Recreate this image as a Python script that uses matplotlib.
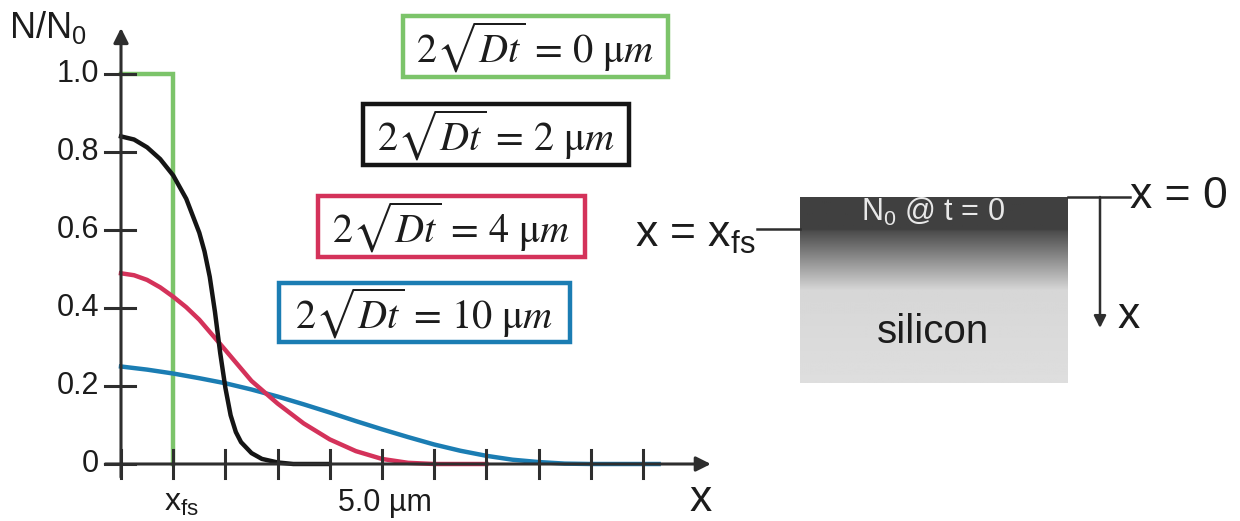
import numpy as np
import matplotlib
matplotlib.use("Agg")
import matplotlib.pyplot as plt
from matplotlib.patches import Rectangle

plt.rcParams['font.family'] = ['Liberation Sans', 'DejaVu Sans']
plt.rcParams['mathtext.fontset'] = 'custom'
plt.rcParams['mathtext.rm'] = 'Liberation Sans'
plt.rcParams['mathtext.it'] = 'Liberation Sans'
plt.rcParams['mathtext.sf'] = 'Liberation Sans'

# --- data (depth in um, N/N0) ---
x_green = [0.0, 1.0, 1.0]
y_green = [1.0, 1.0, 0.0]

x_black = [0.0, 0.25, 0.5, 0.75, 1.0, 1.25, 1.5, 1.6, 1.7, 1.8, 1.9, 2.0,
           2.1, 2.2, 2.3, 2.5, 2.7, 3.0, 3.3, 4.0]
y_black = [0.84, 0.832, 0.812, 0.782, 0.74, 0.68, 0.593, 0.545, 0.48, 0.39,
           0.285, 0.195, 0.125, 0.082, 0.056, 0.028, 0.013, 0.004, 0.0, 0.0]

x_red = [0.0, 0.25, 0.5, 0.75, 1.0, 1.25, 1.5, 2.0, 2.5, 3.0, 3.5, 4.0, 4.5,
         5.0, 5.5, 6.0, 7.0]
y_red = [0.489, 0.484, 0.472, 0.453, 0.429, 0.402, 0.37, 0.292, 0.213, 0.155,
         0.104, 0.063, 0.033, 0.013, 0.003, 0.0, 0.0]

x_blue = [0.0, 0.5, 1.0, 1.5, 2.0, 2.5, 3.0, 3.5, 4.0, 4.5, 5.0, 5.5, 6.0,
          6.5, 7.0, 7.5, 8.0, 8.5, 9.0, 10.3]
y_blue = [0.25, 0.242, 0.232, 0.22, 0.207, 0.191, 0.173, 0.153, 0.132, 0.11,
          0.089, 0.069, 0.05, 0.034, 0.021, 0.011, 0.005, 0.001, 0.0, 0.0]

y_ticks = [0.0, 0.2, 0.4, 0.6, 0.8, 1.0]
y_ticklabels = ['0', '0.2', '0.4', '0.6', '0.8', '1.0']
x_ticks = [0, 1, 2, 3, 4, 5, 6, 7, 8, 9, 10]

legend_labels = ['0', '2', '4', '10']
legend_colors = ['#7cc46a', '#151515', '#d4325a', '#1b7db3']

AX = '#2e2e2e'
TXT = '#1c1c1c'

W, H = 1240, 521
fig = plt.figure(figsize=(W / 100, H / 100), dpi=100)

# main plot axes: whole figure, origin at pixel (121, 464)
x0px, sx = 121.0, 52.2
y0px, sy = 464.0, 390.0
ax = fig.add_axes([0, 0, 1, 1])
ax.set_xlim(-x0px / sx, (W - x0px) / sx)
ax.set_ylim((y0px - H) / sy, y0px / sy)
ax.axis('off')

lw = 3.2
ax.plot(x_green, y_green, color=legend_colors[0], lw=lw, solid_joinstyle='miter', zorder=2)
ax.plot(x_blue, y_blue, color=legend_colors[3], lw=lw, zorder=3)
ax.plot(x_red, y_red, color=legend_colors[2], lw=lw, zorder=4)
ax.plot(x_black, y_black, color=legend_colors[1], lw=lw, zorder=5)

# axes with arrows
arr = dict(arrowstyle='-|>', lw=2.2, color=AX, mutation_scale=22, shrinkA=0, shrinkB=0)
ax.annotate('', xy=(0, 1.118), xytext=(0, -0.034), arrowprops=arr, zorder=6)
ax.annotate('', xy=(11.3, 0), xytext=(-0.3, 0), arrowprops=arr, zorder=6)

for yt, lab in zip(y_ticks, y_ticklabels):
    ax.plot([-0.3, 0.27], [yt, yt], color=AX, lw=2.2, zorder=6)
    ax.text(-0.42, yt, lab, ha='right', va='center', fontsize=22, color=TXT)
for xt in x_ticks:
    ax.plot([xt, xt], [-0.037, 0.037], color=AX, lw=2.2, zorder=6)

ax.text(1.15, -0.10, r'x$_{\mathrm{fs}}$', ha='center', va='center', fontsize=23, color=TXT)
ax.text(5.05, -0.10, '5.0 µm', ha='center', va='center', fontsize=22, color=TXT)
ax.text(11.1, -0.09, 'x', ha='center', va='center', fontsize=32, color=TXT)
ax.text(-2.15, 1.12, r'N/N$_0$', ha='left', va='center', fontsize=26, color=TXT)

# overlay in pixel coordinates for boxes and schematic
ov = fig.add_axes([0, 0, 1, 1])
ov.set_xlim(0, W)
ov.set_ylim(H, 0)
ov.axis('off')
ov.patch.set_alpha(0)

boxes = [(403, 16, 265, 61), (363, 104, 266, 61), (318, 196, 267, 61), (279, 283, 291, 59)]
for (bx, by, bw, bh), lab, c in zip(boxes, legend_labels, legend_colors):
    ov.add_patch(Rectangle((bx, by), bw, bh, fill=True, fc='white', ec=c, lw=3.2, zorder=7))
    ov.text(bx + bw / 2, by + bh / 2 + 1, r'$2\sqrt{Dt}\,=\,%s\ \mathrm{\mu}m$' % lab,
            ha='center', va='center', fontsize=29, color=TXT, math_fontfamily='stix', zorder=8)

# silicon block with gradient
rows = np.arange(197, 384)
gray = np.interp(rows, [197, 229, 231, 290, 383], [0.25, 0.25, 0.30, 0.84, 0.87])
img = np.repeat(gray[:, None], 2, axis=1)
ov.imshow(img, cmap='gray', vmin=0, vmax=1, extent=(800, 1068, 383, 197),
          aspect='auto', interpolation='bilinear', zorder=2)
ov.text(933, 212, r'N$_0$ @ t = 0', ha='center', va='center', fontsize=22, color='#e8e8e8', zorder=3)
ov.text(933, 332, 'silicon', ha='center', va='center', fontsize=29, color=TXT, zorder=3)

ov.plot([757, 800], [229, 229], color=AX, lw=1.8)
ov.text(756, 236, r'x = x$_{\mathrm{fs}}$', ha='right', va='center', fontsize=32, color=TXT)
ov.plot([1068, 1130], [197, 197], color=AX, lw=1.8)
ov.text(1130, 197, 'x = 0', ha='left', va='center', fontsize=32, color=TXT)
ov.annotate('', xy=(1100, 328), xytext=(1100, 197),
            arrowprops=dict(arrowstyle='-|>', lw=1.8, color=AX, mutation_scale=18, shrinkA=0, shrinkB=0))
ov.text(1118, 316, 'x', ha='left', va='center', fontsize=32, color=TXT)

fig.savefig('out.png', dpi=100)
